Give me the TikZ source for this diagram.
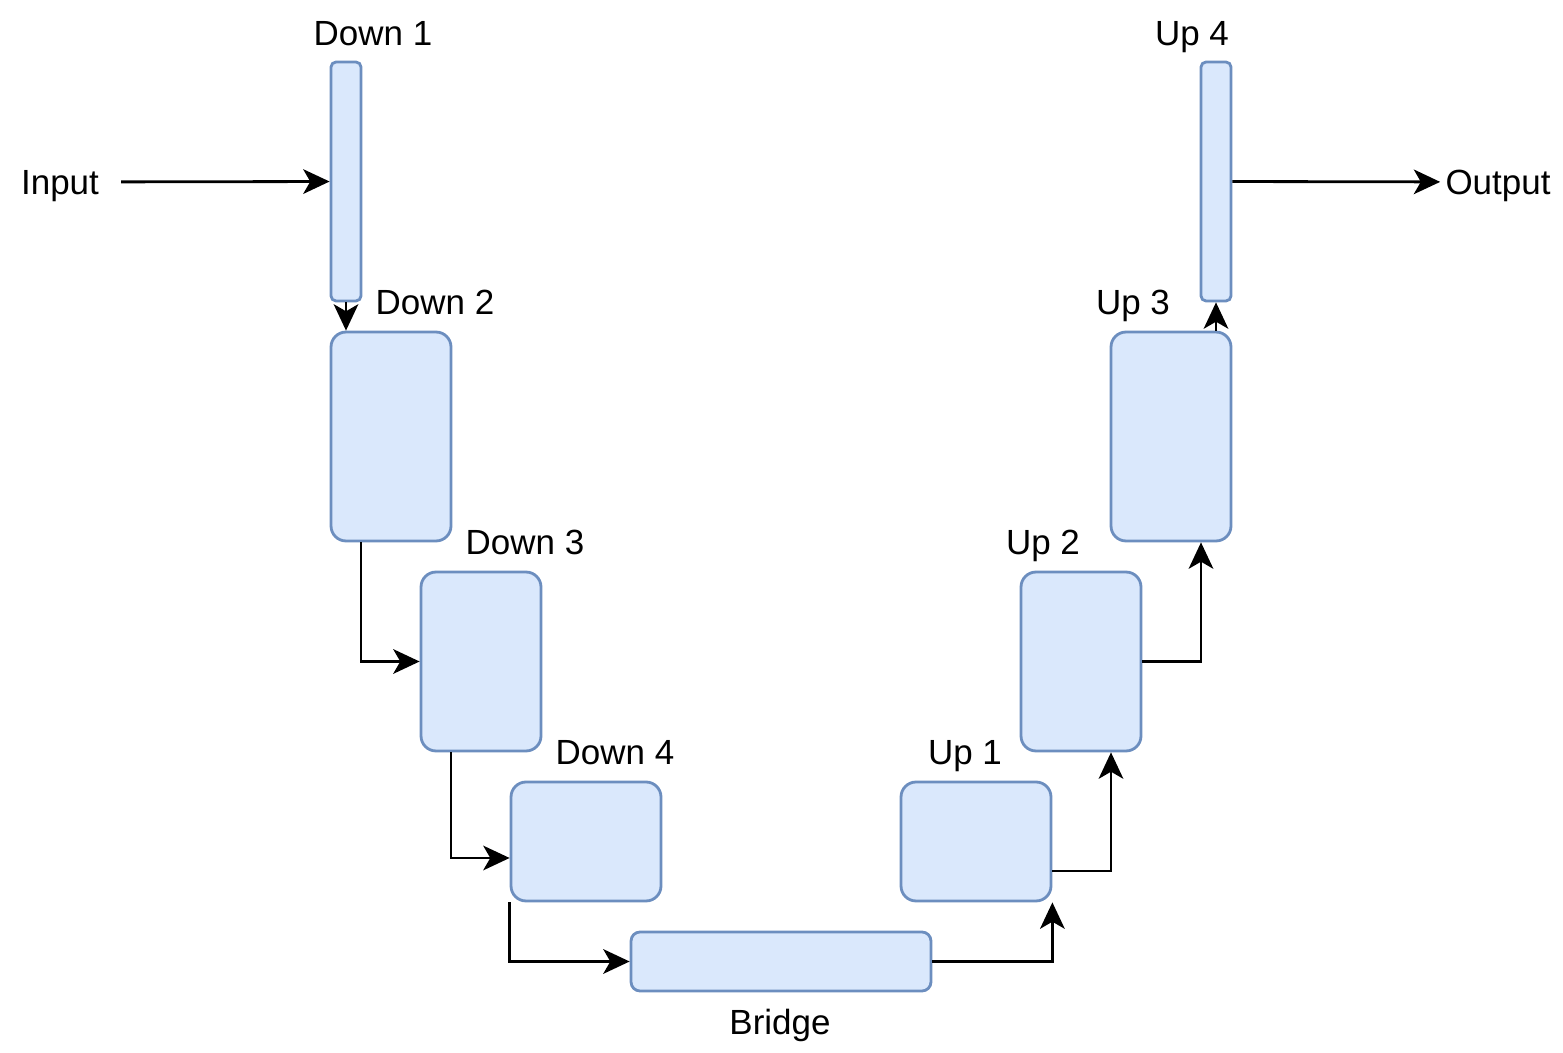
\documentclass[tikz,border=0pt]{standalone}
\usepackage{fontspec}
\setmainfont{Liberation Sans}
\usetikzlibrary{arrows.meta}
\definecolor{blockfill}{HTML}{DAE8FC}
\definecolor{blockdraw}{HTML}{6C8EBF}

\begin{document}
\begin{tikzpicture}
      [x=0.02cm, y=-0.02cm,
      every node/.style={font=\fontsize{19.9}{24}\selectfont},
      block/.style={rectangle, draw=blockdraw, fill=blockfill, line width=1.6pt,
        rounded corners=0.3cm, inner sep=0pt, minimum width=2.4cm},
      thin block/.style={block, minimum width=0.6cm, minimum height=4.78cm, rounded corners=0.1cm},
      caption/.style={anchor=base, inner sep=0pt},
      link/.style={-{Stealth[length=15pt, width=14pt, inset=4pt]}, line width=1.6pt}]
      \useasboundingbox (0,0) rectangle (1563,1053);
      % Place nodes
      \node [thin block] (down1) at (346,181.5) {};
      \node [block, minimum height=4.18cm] (down2) at (391,436.5) {};
      \node [block, minimum height=3.58cm] (down3) at (481,661.5) {};
      \node [block, minimum width=3cm, minimum height=2.38cm] (down4) at (586,841.5) {};
      \node [block, minimum width=6cm, minimum height=1.18cm, rounded corners=0.18cm] (bridge) at (781,961.5) {};
      \node [block, minimum width=3cm, minimum height=2.38cm] (up1) at (976,841.5) {};
      \node [block, minimum height=3.58cm] (up2) at (1081,661.5) {};
      \node [block, minimum height=4.18cm] (up3) at (1171,436.5) {};
      \node [thin block] (up4) at (1216,181.5) {};
      % Labels
      \node [caption] (lbldown1) at (373,45.5) {Down 1};
      \node [caption] (lbldown2) at (435,314.5) {Down 2};
      \node [caption] (lbldown3) at (525,554.5) {Down 3};
      \node [caption] (lbldown4) at (615,764.5) {Down 4};
      \node [caption] (lblbridge) at (780,1034.5) {Bridge};
      \node [caption] (lblup1) at (965,764.5) {Up 1};
      \node [caption] (lblup2) at (1043,554.5) {Up 2};
      \node [caption] (lblup3) at (1133,314.5) {Up 3};
      \node [caption] (lblup4) at (1192,45.5) {Up 4};
      \node [inner xsep=0.44cm, inner ysep=0pt, text depth=0pt] (input) at (60,182) {Input};
      \node [inner xsep=0.1cm, inner ysep=0pt, text depth=0pt] (output) at (1498,182) {Output};
      % Draw edges
      \draw [link] (input) -- (down1);
      \draw [link] (down1.south) -- (down1.south |- down2.north);
      \draw [link] ([xshift=-0.6cm]down2.south) |- (down3);
      \draw [link] ([xshift=-0.6cm]down3.south) |- ([yshift=-0.33cm]down4.west);
      \draw [link] (down4.south west) |- (bridge);
      \draw [link] (bridge) -| (up1.south east);
      \draw [link] ([yshift=-0.59cm]up1.east) -| ([xshift=0.6cm]up2.south);
      \draw [link] (up2) -| ([xshift=0.6cm]up3.south);
      \draw [link] (up4.south |- up3.north) -- (up4.south);
      \draw [link] (up4) -- (output);
    \end{tikzpicture}
\end{document}
